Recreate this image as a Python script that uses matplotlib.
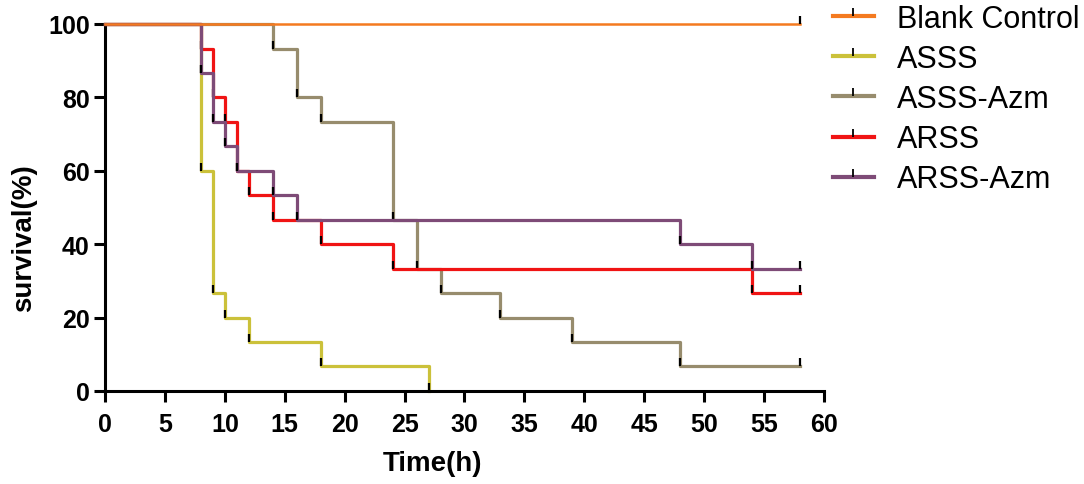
import numpy as np
import matplotlib
matplotlib.use("Agg")
import matplotlib.pyplot as plt
from matplotlib.path import Path

plt.rcParams.update({
    'font.family': ['Liberation Sans', 'DejaVu Sans'],
    'axes.spines.top': False,
    'axes.spines.right': False,
})

# survival steps: time (h) and survival (%) after each event
blank_t = [0, 58]
blank_s = [100, 100]

asss_t = [0, 8, 8, 9, 10, 12, 18, 27]
asss_s = [100, 86.7, 60, 26.7, 20, 13.3, 6.7, 0]

asss_azm_t = [0, 14, 16, 18, 24, 26, 28, 33, 39, 48, 58]
asss_azm_s = [100, 93.3, 80, 73.3, 46.7, 33.3, 26.7, 20, 13.3, 6.7, 6.7]

arss_t = [0, 8, 9, 10, 11, 12, 14, 18, 24, 54, 58]
arss_s = [100, 93.3, 80, 73.3, 60, 53.3, 46.7, 40, 33.3, 26.7, 26.7]

arss_azm_t = [0, 8, 9, 10, 11, 14, 16, 48, 54, 58]
arss_azm_s = [100, 86.7, 73.3, 66.7, 60, 53.3, 46.7, 40, 33.3, 33.3]

GROUPS = [
    ("Blank Control", blank_t, blank_s, "#F47A20", 1.8, 5),
    ("ASSS", asss_t, asss_s, "#CBC13A", 2.3, 2),
    ("ASSS-Azm", asss_azm_t, asss_azm_s, "#978C6D", 2.3, 3),
    ("ARSS", arss_t, arss_s, "#F01414", 2.3, 3.5),
    ("ARSS-Azm", arss_azm_t, arss_azm_s, "#7E4B77", 2.3, 4),
]

# upward tick used as event / censor mark
TICK = Path([(0, 0), (0, 1)], [Path.MOVETO, Path.LINETO])

fig = plt.figure(figsize=(10.84, 4.85), dpi=100)
ax = fig.add_axes([105 / 1084, 1 - 392 / 485, 719 / 1084, 367 / 485])

handles = []
for lab, t, s, col, lw, z in GROUPS:
    ax.step(t, s, where="post", color=col, lw=lw, zorder=z, clip_on=False)
    ax.plot(t[1:], s[1:], ls="none", marker=TICK, markersize=12,
            markeredgecolor="black", markeredgewidth=1.6, zorder=z + 0.1,
            clip_on=False)
    h, = ax.plot([], [], color=col, lw=3.0, marker=TICK, markersize=12,
                 markeredgecolor="black", markeredgewidth=1.3)
    h.set_label(lab)
    handles.append(h)

ax.set_xlim(0, 60)
ax.set_ylim(0, 100)
ax.set_xticks(np.arange(0, 61, 5))
ax.set_yticks(np.arange(0, 101, 20))
for sp in ("left", "bottom"):
    ax.spines[sp].set_linewidth(2.2)
ax.tick_params(width=2.2, length=8, labelsize=18, pad=3)
ax.tick_params(axis="x", pad=7)
for lbl in ax.get_xticklabels() + ax.get_yticklabels():
    lbl.set_fontweight("bold")

ax.set_xlabel("Time(h)", fontsize=20, fontweight="bold")
ax.xaxis.set_label_coords(0.456, -0.162)
fig.text(24 / 1084, 1 - 238 / 485, "survival(%)", fontsize=20,
         fontweight="bold", rotation=90, ha="center", va="center")

fig.legend(handles=handles, loc="upper left",
           bbox_to_anchor=(833 / 1084, 1 - 5 / 485), frameon=False,
           fontsize=22, numpoints=1, handlelength=1.34, handletextpad=0.75,
           labelspacing=0.33, borderpad=0, borderaxespad=0)

fig.savefig("out.png", dpi=100)
